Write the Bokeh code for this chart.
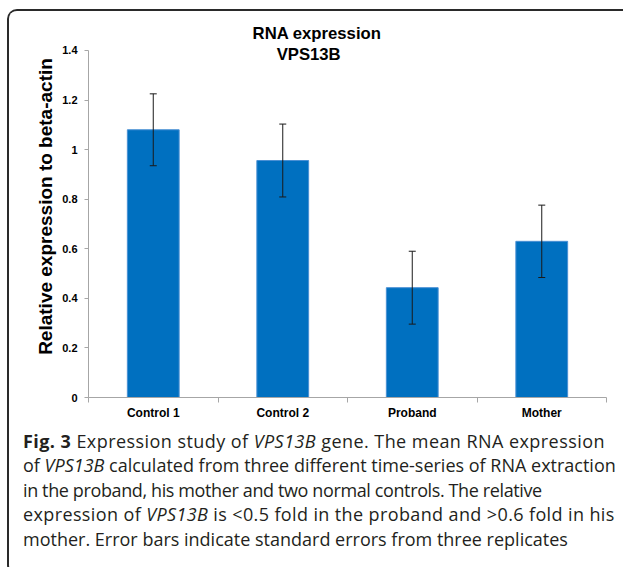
from bokeh.plotting import figure
from bokeh.models import (ColumnDataSource, FixedTicker, NumeralTickFormatter,
                          Whisker, TeeHead, Label, Div)
from bokeh.layouts import column
from bokeh.embed import file_html
from bokeh.resources import INLINE

categories = ["Control 1", "Control 2", "Proband", "Mother"]
values = [1.08, 0.956, 0.443, 0.630]
errors = [0.145, 0.147, 0.147, 0.146]
y_ticks = [0, 0.2, 0.4, 0.6, 0.8, 1.0, 1.2, 1.4]
title_lines = ["RNA expression", "VPS13B"]
y_label = "Relative expression to beta-actin"

caption_lines = [
    "<b>Fig. 3</b> Expression study of <i>VPS13B</i> gene. The mean RNA expression",
    "of <i>VPS13B</i> calculated from three different time-series of RNA extraction",
    "in the proband, his mother and two normal controls. The relative",
    "expression of <i>VPS13B</i> is &lt;0.5 fold in the proband and &gt;0.6 fold in his",
    "mother. Error bars indicate standard errors from three replicates",
]
# per-line letter spacing (px) to mimic the original typesetting widths
caption_spacing = [0.44, 0.0, -0.38, 0.38, 0.0]

xs = [i + 0.5 for i in range(len(categories))]
src = ColumnDataSource(dict(
    x=xs, top=values,
    upper=[v + e for v, e in zip(values, errors)],
    lower=[v - e for v, e in zip(values, errors)],
))

FONT = "Liberation Sans"

p = figure(width=614, height=413, output_backend="svg", toolbar_location=None,
           x_range=(0, len(categories)), y_range=(0, 1.541),
           min_border_left=79, min_border_right=17, min_border_top=4, min_border_bottom=27)
p.outline_line_color = None
p.grid.visible = False
p.background_fill_color = "white"
p.border_fill_color = "white"

p.vbar(x="x", top="top", width=0.4, source=src, fill_color="#0070C0",
       line_color="#4A90D4", line_width=1)

wh = Whisker(source=src, base="x", upper="upper", lower="lower", level="overlay",
             line_color="#1a1a1a", line_width=1,
             upper_head=TeeHead(size=7, line_color="#1a1a1a", line_width=1),
             lower_head=TeeHead(size=7, line_color="#1a1a1a", line_width=1))
p.add_layout(wh)

# y axis
ya = p.yaxis[0]
ya.ticker = FixedTicker(ticks=y_ticks, minor_ticks=[])
ya.formatter = NumeralTickFormatter(format="0.[0]")
ya.bounds = (0, 1.4)
ya.axis_line_color = "#A6A6A6"
ya.major_tick_line_color = "#A6A6A6"
ya.major_tick_out = 4
ya.major_tick_in = 0
ya.minor_tick_line_color = None
ya.major_label_text_font = FONT
ya.major_label_text_font_style = "bold"
ya.major_label_text_font_size = "11px"
ya.major_label_text_color = "black"
ya.major_label_standoff = 7
ya.axis_label = y_label
ya.axis_label_text_font = FONT
ya.axis_label_text_font_style = "bold"
ya.axis_label_text_font_size = "19px"
ya.axis_label_text_color = "black"
ya.axis_label_standoff = 3

# x axis
xa = p.xaxis[0]
xa.ticker = FixedTicker(ticks=xs, minor_ticks=list(range(len(categories) + 1)))
xa.major_label_overrides = {x: c for x, c in zip(xs, categories)}
xa.axis_line_color = "#A6A6A6"
xa.major_tick_out = 0
xa.major_tick_in = 0
xa.major_tick_line_color = None
xa.minor_tick_line_color = "#A6A6A6"
xa.minor_tick_out = 5
xa.minor_tick_in = 0
xa.major_label_text_font = FONT
xa.major_label_text_font_style = "bold"
xa.major_label_text_font_size = "12px"
xa.major_label_text_color = "black"
xa.major_label_standoff = 3

p.add_layout(Label(x=1.765, y=1.467, text=title_lines[0], text_align="center",
                   text_baseline="alphabetic", text_font=FONT, text_font_style="bold",
                   text_font_size="16.7px", text_color="black"))
p.add_layout(Label(x=1.70, y=1.384, text=title_lines[1], text_align="center",
                   text_baseline="alphabetic", text_font=FONT, text_font_style="bold",
                   text_font_size="16.7px", text_color="black"))

lines_html = "".join(
    f"<div style=\"letter-spacing:{ls}px;\">{t}</div>"
    for t, ls in zip(caption_lines, caption_spacing)
)
html = ("<div style=\"font-family:'Open Sans'; font-size:18px; line-height:24.4px; "
        "white-space:nowrap; color:#231f20; padding-left:9px;\">"
        + lines_html + "</div>")
cap = Div(text=html, width=614, height=139, styles={"overflow": "hidden"})

layout = column(p, cap, styles={
    "margin-left": "7px",
    "margin-top": "9px",
    "border-top": "2px solid #2a2a2a",
    "border-left": "2px solid #2a2a2a",
    "border-bottom": "2px solid #2a2a2a",
    "border-top-left-radius": "10px",
    "border-bottom-left-radius": "10px",
    "overflow": "hidden",
})

open("out.html", "w").write(file_html(layout, INLINE))
